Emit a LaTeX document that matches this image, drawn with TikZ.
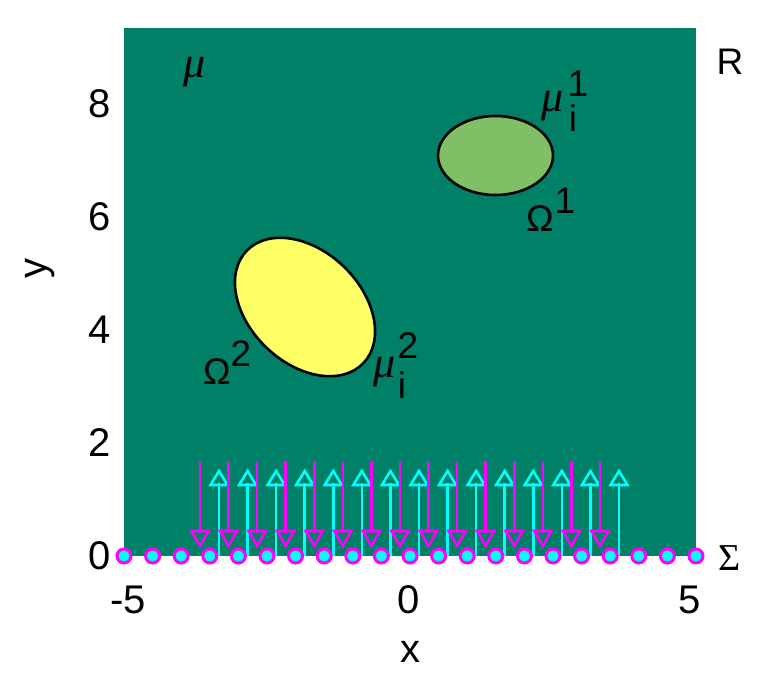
\documentclass[tikz,border=0pt]{standalone}
\usepackage{fontspec}
\setmainfont{Liberation Sans}
\newfontfamily\serifgr{Liberation Serif}
\definecolor{bgsum}{HTML}{008066}
\definecolor{lgsum}{HTML}{80BF66}
\definecolor{ylsum}{HTML}{FFFF66}
\definecolor{magq}{HTML}{FF00FF}
\definecolor{cyq}{HTML}{00FFFF}
\tikzset{
  tick/.style={font=\fontsize{40}{40}\selectfont, inner sep=0pt},
  lab/.style={font=\fontsize{37}{37}\selectfont, inner sep=0pt},
  mu/.style={font=\fontsize{44}{44}\selectfont\serifgr\itshape, inner sep=0pt},
  region/.style={draw=black, line width=2.6pt},
  downq/.style={magq, line width=2.6pt},
  upq/.style={cyq, line width=2.6pt},
  sensor/.style={circle, draw=magq, fill=cyq, line width=3pt, minimum size=14pt, inner sep=0pt}
}
\begin{document}
\begin{tikzpicture}[x=1pt, y=-1pt]
\useasboundingbox (0,0) rectangle (774,690);
% plot area
\fill[bgsum] (124,28) rectangle (696,556);
% regions
\draw[region, fill=lgsum] (495.5,155.5) ellipse [x radius=57.5, y radius=39.5];
\draw[region, fill=ylsum, rotate around={-44:(305,307)}] (305,307) ellipse [x radius=81, y radius=56];
% quiver arrows
\foreach \k in {0,...,14} {
  \pgfmathsetmacro{\xm}{200+28.57*\k}
  \pgfmathsetmacro{\xc}{219+28.57*\k}
  \draw[downq] (\xm,461) -- (\xm,533);
  \draw[downq, line join=miter] (\xm-8.5,531) -- (\xm+8.5,531) -- (\xm,546) -- cycle;
  \draw[upq] (\xc,556) -- (\xc,483);
  \draw[upq, line join=miter] (\xc-8.5,485) -- (\xc+8.5,485) -- (\xc,471) -- cycle;
}
% sensors
\foreach \k in {0,...,20} {
  \node[sensor] (s\k) at (124+28.6*\k,556) {};
}
% labels
\node[mu] (mu0) at (195,72) {μ};
\node[mu] (mu1) at (553,106) {μ};
\node[lab] (i1) at (573,118) {i};
\node[lab] (p1) at (578,84) {1};
\node[lab] (om1) at (540,219) {Ω};
\node[lab] (q1) at (565,201) {1};
\node[lab] (om2) at (217,372) {Ω};
\node[lab] (q2) at (241,354) {2};
\node[mu] (mu2) at (385,372) {μ};
\node[lab] (i2) at (402,385) {i};
\node[lab] (p2) at (408,346) {2};
\node[lab] (R) at (730,62) {R};
\node[lab, font=\fontsize{38}{38}\selectfont\serifgr] (S) at (730,558) {Σ};
% ticks
\node[tick] (t0) at (100,556) {0};
\node[tick] (t2) at (100,443) {2};
\node[tick] (t4) at (100,330) {4};
\node[tick] (t6) at (100,217) {6};
\node[tick] (t8) at (100,104) {8};
\node[tick] (xm5) at (128,600) {-5};
\node[tick] (x0) at (409,600) {0};
\node[tick] (x5) at (690,600) {5};
\node[tick, rotate=90] (ylab) at (40,268) {y};
\node[tick] (xlab) at (410,652) {x};
\end{tikzpicture}
\end{document}
